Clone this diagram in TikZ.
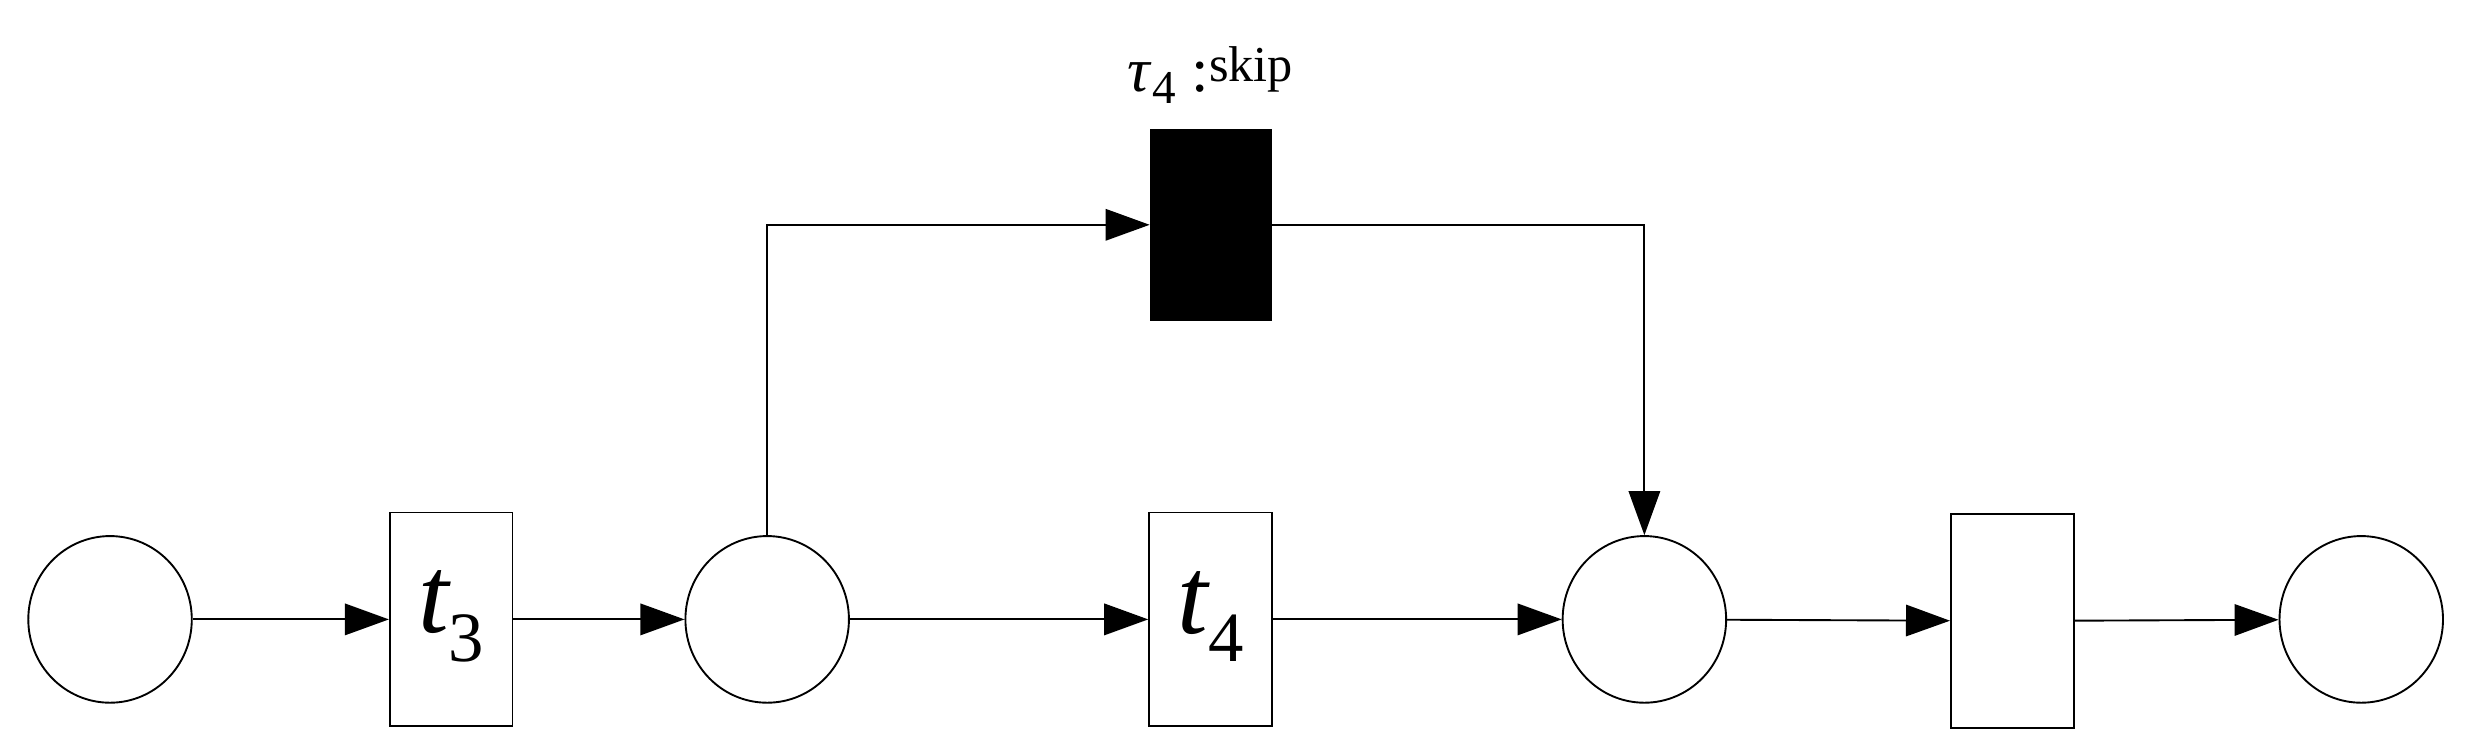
\documentclass[tikz,border=0pt]{standalone}
\usepackage{fontspec}
\setmainfont{Liberation Serif}
\usetikzlibrary{arrows.meta,shapes.geometric}
\begin{document}
\begin{tikzpicture}[x=1pt,y=-1pt,
  place/.style={draw,line width=1.2pt,ellipse,minimum width=104pt,minimum height=106pt,inner sep=0pt},
  trans/.style={draw,line width=1.2pt,minimum width=78pt,minimum height=136pt,inner sep=0pt},
  arc/.style={line width=1.2pt,-{Triangle[length=28pt,width=20pt]}},
  lab/.style={font=\fontsize{70}{70}\selectfont\itshape}]
\useasboundingbox (0,0) rectangle (1568,478);
\node[place] (p1) at (70,394) {};
\node[trans] (t3) at (287,394) {};
\node[lab] at (287,392) {t\raisebox{-18pt}{\fontsize{45}{45}\selectfont\upshape 3}};
\node[place] (p2) at (488,394) {};
\node[trans] (t4) at (770,394) {};
\node[lab] at (770,392) {t\raisebox{-18pt}{\fontsize{45}{45}\selectfont\upshape 4}};
\node[place] (p3) at (1046,394) {};
\node[trans] (t5) at (1280,395) {};
\node[place] (p4) at (1502,394) {};
\node[draw,fill=black,minimum width=77pt,minimum height=122pt,inner sep=0pt] (tau) at (770,143) {};
\node[font=\fontsize{40}{40}\selectfont] (lt) at (770,48) {\textit{τ}\raisebox{-8pt}{\fontsize{30}{30}\selectfont 4} :\raisebox{6pt}{\fontsize{32}{32}\selectfont skip}};
\draw[arc] (p1) -- (t3);
\draw[arc] (t3) -- (p2);
\draw[arc] (p2) -- (t4);
\draw[arc] (t4) -- (p3);
\draw[arc] (p3) -- (t5);
\draw[arc] (t5) -- (p4);
\draw[arc] (p2.north) |- (tau.west);
\draw[arc] (tau.east) -| (p3.north);
\end{tikzpicture}
\end{document}
